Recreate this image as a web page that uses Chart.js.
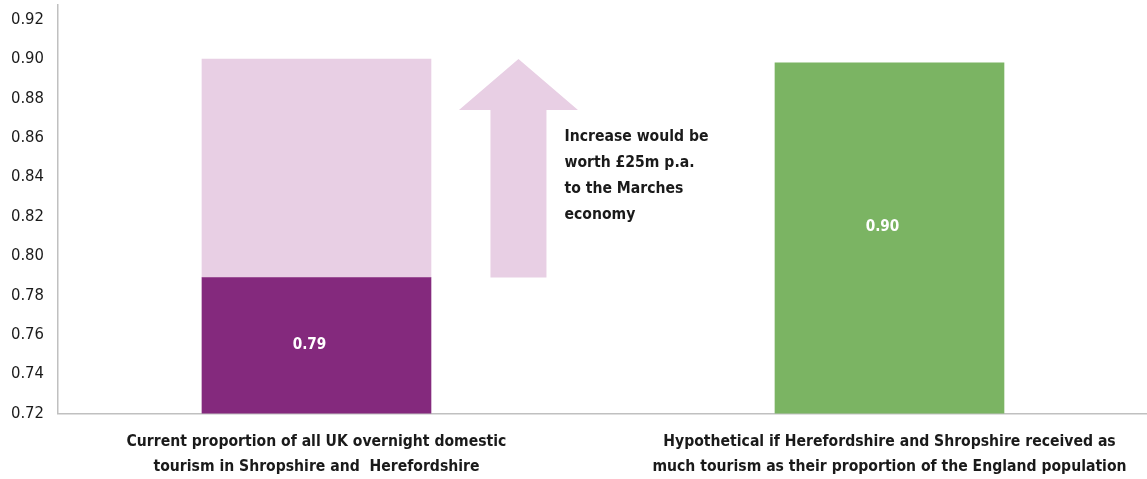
<!DOCTYPE html>
<html>
<head>
<meta charset="utf-8">
<script src="https://cdn.jsdelivr.net/npm/chart.js@4/dist/chart.umd.min.js"></script>
<style>
    html, body { margin: 0; padding: 0; background: #fff; }
    #wrap { width: 1147px; height: 479px; position: relative; }
</style>
</head>
<body>
<div id="wrap"><canvas id="tourism"></canvas></div>
<script>
// categories (multi-line axis labels)
var categories = [
    ['Current proportion of all UK overnight domestic', 'tourism in Shropshire and  Herefordshire'],
    ['Hypothetical if Herefordshire and Shropshire received as', 'much tourism as their proportion of the England population']
];
// proportion values
var currentShare = [0.789];
var increaseShare = [0.111];
var hypotheticalShare = [0.898];
// y axis
var yTicks = [0.72, 0.74, 0.76, 0.78, 0.80, 0.82, 0.84, 0.86, 0.88, 0.90, 0.92];
var noteLines = ['Increase would be', 'worth \u00a325m p.a.', 'to the Marches', 'economy'];

var FONT = '"Liberation Sans Narrow", "DejaVu Sans Condensed", "Roboto", sans-serif';
var DARK = '#84297d';
var LIGHT = '#e8cfe4';
var GREEN = '#7bb463';
var AXIS = '#c0c0c0';

/**
 * arrow between the current bar top and the hypothetical level, plus note text
 */
var arrowPlugin = {
    id: 'arrowNote',
    afterDatasetsDraw: function (chart) {
        var ctx = chart.ctx;
        var x = chart.scales.x;
        var y = chart.scales.y;
        var cx = x.getPixelForValue(0.3525);
        var tip = y.getPixelForValue(currentShare[0] + increaseShare[0]);
        var base = y.getPixelForValue(currentShare[0]);
        var shaft = 28, head = 59.5, headH = 51;

        ctx.save();
        ctx.fillStyle = LIGHT;
        ctx.beginPath();
        ctx.moveTo(cx, tip);
        ctx.lineTo(cx + head, tip + headH);
        ctx.lineTo(cx + shaft, tip + headH);
        ctx.lineTo(cx + shaft, base);
        ctx.lineTo(cx - shaft, base);
        ctx.lineTo(cx - shaft, tip + headH);
        ctx.lineTo(cx - head, tip + headH);
        ctx.closePath();
        ctx.fill();

        ctx.fillStyle = '#1a1a1a';
        ctx.font = 'bold 15.6px ' + FONT;
        ctx.textAlign = 'left';
        ctx.textBaseline = 'middle';
        var ty = y.getPixelForValue(0.8605);
        for (var i = 0; i < noteLines.length; i++) {
            ctx.fillText(noteLines[i], cx + shaft + 18, ty + i * 26);
        }
        ctx.restore();
    }
};

/**
 * value labels inside the solid bars
 */
var valuePlugin = {
    id: 'valueLabels',
    afterDatasetsDraw: function (chart) {
        var ctx = chart.ctx;
        var area = chart.chartArea;
        ctx.save();
        ctx.fillStyle = '#fff';
        ctx.font = 'bold 15.2px ' + FONT;
        ctx.textAlign = 'center';
        ctx.textBaseline = 'middle';
        [0, 2].forEach(function (d) {
            var ds = chart.data.datasets[d];
            var bar = chart.getDatasetMeta(d).data[0];
            var top = Math.max(bar.y, area.top);
            var bottom = Math.min(bar.base, area.bottom);
            ctx.fillText(ds.data[0].y.toFixed(2), bar.x - 7, (top + bottom) / 2 + (ds.labelShift || 0));
        });
        ctx.restore();
    }
};

var data = {
    datasets: [
        {
            label: 'Current',
            data: [{x: 0, y: currentShare[0]}],
            backgroundColor: DARK
        },
        {
            label: 'Increase',
            data: [{x: 0, y: increaseShare[0]}],
            backgroundColor: LIGHT
        },
        {
            label: 'Hypothetical',
            data: [{x: 1, y: hypotheticalShare[0]}],
            backgroundColor: GREEN,
            labelShift: -11
        }
    ]
};

var options = {
    responsive: true,
    maintainAspectRatio: false,
    animation: false,
    layout: { padding: { top: 5, left: 0, right: 0, bottom: 0 } },
    plugins: { legend: { display: false }, tooltip: { enabled: false } },
    datasets: { bar: { barThickness: 229 } },
    scales: {
        x: {
            type: 'linear',
            stacked: true,
            offset: false,
            min: -0.4511,
            max: 1.4494,
            grid: { display: false, drawTicks: false },
            border: { display: true, color: AXIS, width: 1.5 },
            afterBuildTicks: function (scale) {
                scale.ticks = categories.map(function (c, i) { return {value: i}; });
            },
            afterFit: function (scale) {
                scale.height = 65.5;
                scale.paddingLeft = 0;
                scale.paddingRight = 0;
            },
            ticks: {
                autoSkip: false,
                maxRotation: 0,
                padding: 16,
                color: '#1a1a1a',
                font: { family: FONT, size: 15.6, weight: 'bold', lineHeight: 1.6 },
                callback: function (v) { return categories[v]; }
            }
        },
        y: {
            stacked: true,
            min: 0.72,
            max: 0.9274,
            grid: { display: false, drawTicks: false },
            border: { display: true, color: AXIS, width: 1.5 },
            afterBuildTicks: function (scale) {
                scale.ticks = yTicks.map(function (v) { return {value: v}; });
            },
            afterFit: function (scale) {
                scale.width = 58;
                scale.paddingTop = 0;
                scale.paddingBottom = 0;
            },
            ticks: {
                padding: 14,
                color: '#1a1a1a',
                font: { family: FONT, size: 16.5 },
                callback: function (v) { return v.toFixed(2); }
            }
        }
    }
};

var ctx = document.getElementById('tourism').getContext('2d');
var tourismChart = new Chart(ctx, { type: 'bar', data: data, options: options, plugins: [arrowPlugin, valuePlugin] });
</script>
</body>
</html>
